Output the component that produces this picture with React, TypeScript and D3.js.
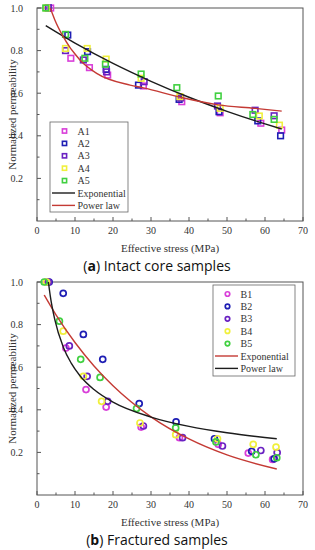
import * as d3 from "d3";

type Pt = [number, number];

const xTicks = [0, 10, 20, 30, 40, 50, 60, 70];
const yTicks = [0.2, 0.4, 0.6, 0.8, 1.0];

// (a) intact core samples
const A1: Pt[] = [[3.6, 1.0], [8.9, 0.764], [13.8, 0.72], [18.6, 0.685], [28, 0.634], [38.1, 0.56], [48.2, 0.508], [58.9, 0.459], [64.4, 0.427]];
const A2: Pt[] = [[3, 1.0], [8.1, 0.873], [13.3, 0.795], [18.2, 0.712], [26.7, 0.638], [37.4, 0.571], [47.9, 0.513], [58.1, 0.47], [64.1, 0.4]];
const A3: Pt[] = [[3, 1.0], [7.5, 0.8], [12.2, 0.756], [18.3, 0.7], [28.2, 0.654], [37.8, 0.578], [47.5, 0.54], [57.4, 0.52], [62.4, 0.494]];
const A4: Pt[] = [[2.5, 1.0], [7.5, 0.81], [13.2, 0.81], [18.2, 0.76], [27.4, 0.67], [37.6, 0.584], [48.2, 0.529], [58.5, 0.493], [63.8, 0.45]];
const A5: Pt[] = [[2.3, 1.0], [7.5, 0.876], [12.6, 0.764], [18, 0.736], [27.4, 0.69], [36.8, 0.626], [47.7, 0.587], [56.8, 0.5], [62.4, 0.477]];
const aExp: Pt[] = [[2.3, 0.917], [10, 0.835], [20, 0.74], [30, 0.656], [40, 0.581], [50, 0.515], [60, 0.456], [64.4, 0.432]];
const aPow: Pt[] = [[3.5, 1.0], [4.7, 0.944], [6.9, 0.865], [11.3, 0.756], [15.7, 0.693], [24.5, 0.638], [28, 0.625], [38, 0.58], [47.7, 0.545], [57.4, 0.529], [64.4, 0.516]];

// (b) fractured samples
const B1: Pt[] = [[2.5, 1.0], [7.6, 0.69], [12.9, 0.495], [18.2, 0.413], [27.4, 0.319], [37.5, 0.269], [47.7, 0.238], [55.6, 0.197], [62, 0.167]];
const B2: Pt[] = [[3.2, 1.0], [6.9, 0.947], [12.2, 0.754], [17.3, 0.637], [26.9, 0.429], [36.6, 0.343], [46.7, 0.264], [56.5, 0.205], [62.4, 0.17]];
const B3: Pt[] = [[3, 1.0], [8.5, 0.7], [13.2, 0.557], [18.6, 0.44], [28, 0.324], [38.3, 0.269], [48.8, 0.23], [58.9, 0.209], [63.2, 0.199]];
const B4: Pt[] = [[2.5, 1.0], [6.9, 0.769], [12.2, 0.557], [17, 0.44], [27.1, 0.338], [36.5, 0.283], [47.5, 0.264], [56.9, 0.238], [62.9, 0.225]];
const B5: Pt[] = [[1.9, 1.0], [5.9, 0.816], [11.5, 0.637], [16.6, 0.552], [26.2, 0.406], [36.5, 0.315], [47.1, 0.249], [57.6, 0.189], [63.1, 0.175]];
const bExp: Pt[] = [[1.9, 0.939], [5, 0.846], [10, 0.716], [15, 0.606], [20, 0.513], [30, 0.367], [40, 0.263], [50, 0.188], [63.1, 0.122]];
const bPow: Pt[] = [[3.0, 1.0], [3.5, 0.934], [4.7, 0.822], [6.9, 0.695], [9, 0.619], [11.3, 0.56], [15, 0.495], [20, 0.436], [30, 0.366], [40, 0.322], [50, 0.292], [63.1, 0.264]];

const seriesColors = ["#d93fd9", "#1e1eb4", "#6a22c2", "#f0f03c", "#40d040"];
const RED = "#c43a34";
const BLACK = "#1c1c1c";
const serif = "'Liberation Serif', 'Times New Roman', serif";

type Series = { name: string; data: Pt[]; color: string };
type Fit = { name: string; data: Pt[]; color: string };

function Panel({ top, series, fits, marker, legend, caption, capLetter }: {
  top: number; series: Series[]; fits: Fit[]; marker: "square" | "circle";
  legend: { x: number; y: number; w: number; h: number };
  caption: string; capLetter: string;
}) {
  const left = 37, right = 303;
  const plotTop = top, plotBottom = top + 213;
  const x = d3.scaleLinear().domain([0, 70]).range([left, right]);
  const y = d3.scaleLinear().domain([0, 1]).range([plotBottom, plotTop]);
  const line = d3.line<Pt>().x(d => x(d[0])).y(d => y(d[1])).curve(d3.curveMonotoneX);
  const minorX = d3.range(5, 70, 10);
  const minorY = d3.range(0.1, 1, 0.2);

  const drawMarker = (cx: number, cy: number, color: string, key: string, s = 1) =>
    marker === "square"
      ? <rect key={key} x={cx - 2.8 * s} y={cy - 2.8 * s} width={5.6 * s} height={5.6 * s} fill="none" stroke={color} strokeWidth={1.6} />
      : <circle key={key} cx={cx} cy={cy} r={3 * s} fill="none" stroke={color} strokeWidth={1.7} />;

  const rowH = 12.4;
  return (
    <g>
      <rect x={left} y={plotTop} width={right - left} height={plotBottom - plotTop} fill="none" stroke="#555" strokeWidth={1} />
      {xTicks.map(t => (
        <g key={"xt" + t}>
          <line x1={x(t)} x2={x(t)} y1={plotBottom} y2={plotBottom - 4} stroke="#555" />
          <text x={x(t)} y={plotBottom + 12.5} textAnchor="middle" fontSize={10} fontFamily={serif} fill="#333">{t}</text>
        </g>
      ))}
      {minorX.map(t => <line key={"xm" + t} x1={x(t)} x2={x(t)} y1={plotBottom} y2={plotBottom - 2.5} stroke="#555" />)}
      {yTicks.map(t => (
        <g key={"yt" + t}>
          <line x1={left} x2={left + 4} y1={y(t)} y2={y(t)} stroke="#555" />
          <text x={23} y={y(t) + 3.5} textAnchor="end" fontSize={10} fontFamily={serif} fill="#333">{t.toFixed(1)}</text>
        </g>
      ))}
      {minorY.map(t => <line key={"ym" + t} x1={left} x2={left + 2.5} y1={y(t)} y2={y(t)} stroke="#555" />)}
      <text x={(left + right) / 2} y={plotBottom + 31} textAnchor="middle" fontSize={11} fontFamily={serif} fill="#333">Effective stress (MPa)</text>
      <text transform={`translate(16,${y(0.5)}) rotate(-90)`} textAnchor="middle" fontSize={11} fontFamily={serif} fill="#333">Normalized permeability</text>

      {series.map(s => (
        <g key={s.name}>{s.data.map((d, i) => drawMarker(x(d[0]), y(d[1]), s.color, s.name + i))}</g>
      ))}
      {fits.map(f => (
        <path key={f.name} d={line(f.data) ?? ""} fill="none" stroke={f.color} strokeWidth={1.4} />
      ))}

      <rect x={legend.x} y={legend.y} width={legend.w} height={legend.h} fill="#fff" stroke="#666" strokeWidth={0.8} />
      {series.map((s, i) => {
        const ly = legend.y + 9 + i * rowH;
        return (
          <g key={"lg" + s.name}>
            {drawMarker(legend.x + 14.5, ly, s.color, "lm" + s.name, 0.75)}
            <text x={legend.x + 27.5} y={ly + 3.5} fontSize={10} fontFamily={serif} fill="#333">{s.name}</text>
          </g>
        );
      })}
      {fits.map((f, i) => {
        const ly = legend.y + 9 + (series.length + i) * rowH;
        return (
          <g key={"lf" + f.name}>
            <line x1={legend.x + 2} x2={legend.x + 25} y1={ly} y2={ly} stroke={f.color} strokeWidth={1.4} />
            <text x={legend.x + 27.5} y={ly + 3.5} fontSize={10} fontFamily={serif} fill="#333">{f.name}</text>
          </g>
        );
      })}

      <text x={157} y={plotBottom + 50} textAnchor="middle" fontSize={14} fontFamily="'Open Sans', sans-serif" fill="#111">
        (<tspan fontWeight="bold">{capLetter}</tspan>) {caption}
      </text>
    </g>
  );
}

export default function App() {
  const aSeries: Series[] = [A1, A2, A3, A4, A5].map((d, i) => ({ name: "A" + (i + 1), data: d, color: seriesColors[i] }));
  const bSeries: Series[] = [B1, B2, B3, B4, B5].map((d, i) => ({ name: "B" + (i + 1), data: d, color: seriesColors[i] }));
  return (
    <svg width={315} height={550} style={{ position: "absolute", left: 0, top: 0, background: "#fff" }}>
      <Panel top={8} series={aSeries}
        fits={[{ name: "Exponential", data: aExp, color: BLACK }, { name: "Power law", data: aPow, color: RED }]}
        marker="square" legend={{ x: 50, y: 122, w: 78, h: 90 }} caption="Intact core samples" capLetter="a" />
      <Panel top={282} series={bSeries}
        fits={[{ name: "Exponential", data: bExp, color: RED }, { name: "Power law", data: bPow, color: BLACK }]}
        marker="circle" legend={{ x: 213, y: 285, w: 82, h: 91 }} caption="Fractured samples" capLetter="b" />
    </svg>
  );
}
